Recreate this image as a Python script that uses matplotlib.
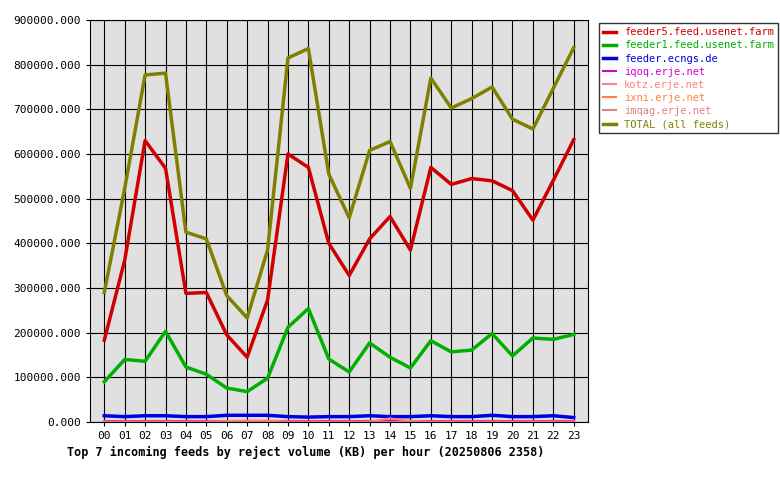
import matplotlib
matplotlib.use("Agg")
import matplotlib.pyplot as plt

hours = ["%02d" % h for h in range(24)]
feeder5 = [183000,362000,630000,568000,288000,290000,195000,145000,273000,600000,570000,400000,328000,410000,460000,385000,570000,532000,545000,540000,518000,452000,541000,632000]
feeder1 = [90000,140000,136000,203000,123000,107000,76000,68000,98000,212000,254000,141000,112000,177000,145000,121000,182000,157000,161000,198000,148000,188000,185000,196000]
ecngs = [14000,12000,14000,14000,12000,12000,15000,15000,15000,12000,11000,12000,12000,14000,12000,12000,14000,12000,12000,15000,12000,12000,14000,10000]
iqoq = [2000]*24
kotz = [1000,1000,1000,1000,1000,1000,2000,3000,3000,1000,1000,1000,1000,1000,8000,2000,1000,1000,1000,1000,1000,1000,1000,1000]
ixni = [1000]*24
imqag = [500]*24
total = [290000,523000,777000,781000,425000,410000,283000,233000,385000,815000,836000,555000,457000,608000,628000,523000,770000,703000,724000,750000,678000,656000,747000,838000]

series = [("feeder5.feed.usenet.farm", feeder5, "#d00000"),
          ("feeder1.feed.usenet.farm", feeder1, "#00b000"),
          ("feeder.ecngs.de", ecngs, "#0000e0"),
          ("iqoq.erje.net", iqoq, "#d000d0"),
          ("kotz.erje.net", kotz, "#ff8080"),
          ("ixni.erje.net", ixni, "#ff8040"),
          ("imqag.erje.net", imqag, "#e08080"),
          ("TOTAL (all feeds)", total, "#808000")]

plt.rcParams['font.family'] = 'DejaVu Sans Mono'
fig = plt.figure(figsize=(7.8, 4.8), dpi=100)
ax = fig.add_axes([90/780, 58/480, 498/780, 402/480])
ax.set_facecolor("#e0e0e0")
x = list(range(24))
for name, vals, c in series:
    ax.plot(x, vals, color=c, lw=2.5 if name in ("feeder5.feed.usenet.farm","feeder1.feed.usenet.farm","TOTAL (all feeds)","feeder.ecngs.de") else 1.5, label=name)
ax.set_xlim(-0.7, 23.7)
ax.set_ylim(0, 900000)
ax.set_xticks(x)
ax.set_xticklabels(hours, fontsize=8)
ax.set_yticks(range(0, 900001, 100000))
ax.set_yticklabels(["%d.000" % v for v in range(0, 900001, 100000)], fontsize=8)
ax.grid(True, color="black", lw=0.8)
ax.set_axisbelow(True)
ax.tick_params(length=3)
fig.text(67/780, 1-452/480, "Top 7 incoming feeds by reject volume (KB) per hour (20250806 2358)",
         fontsize=8.5, fontweight="bold", va="center")
leg = fig.legend(loc="upper left", bbox_to_anchor=(594/780, 1-18/480), fontsize=7.5,
                 frameon=True, fancybox=False, edgecolor="black", handlelength=1.2,
                 labelspacing=0.3, borderpad=0.4)
for t, (_, _, c) in zip(leg.get_texts(), series):
    t.set_color(c)
fig.savefig("out.png", dpi=100, facecolor="white")
